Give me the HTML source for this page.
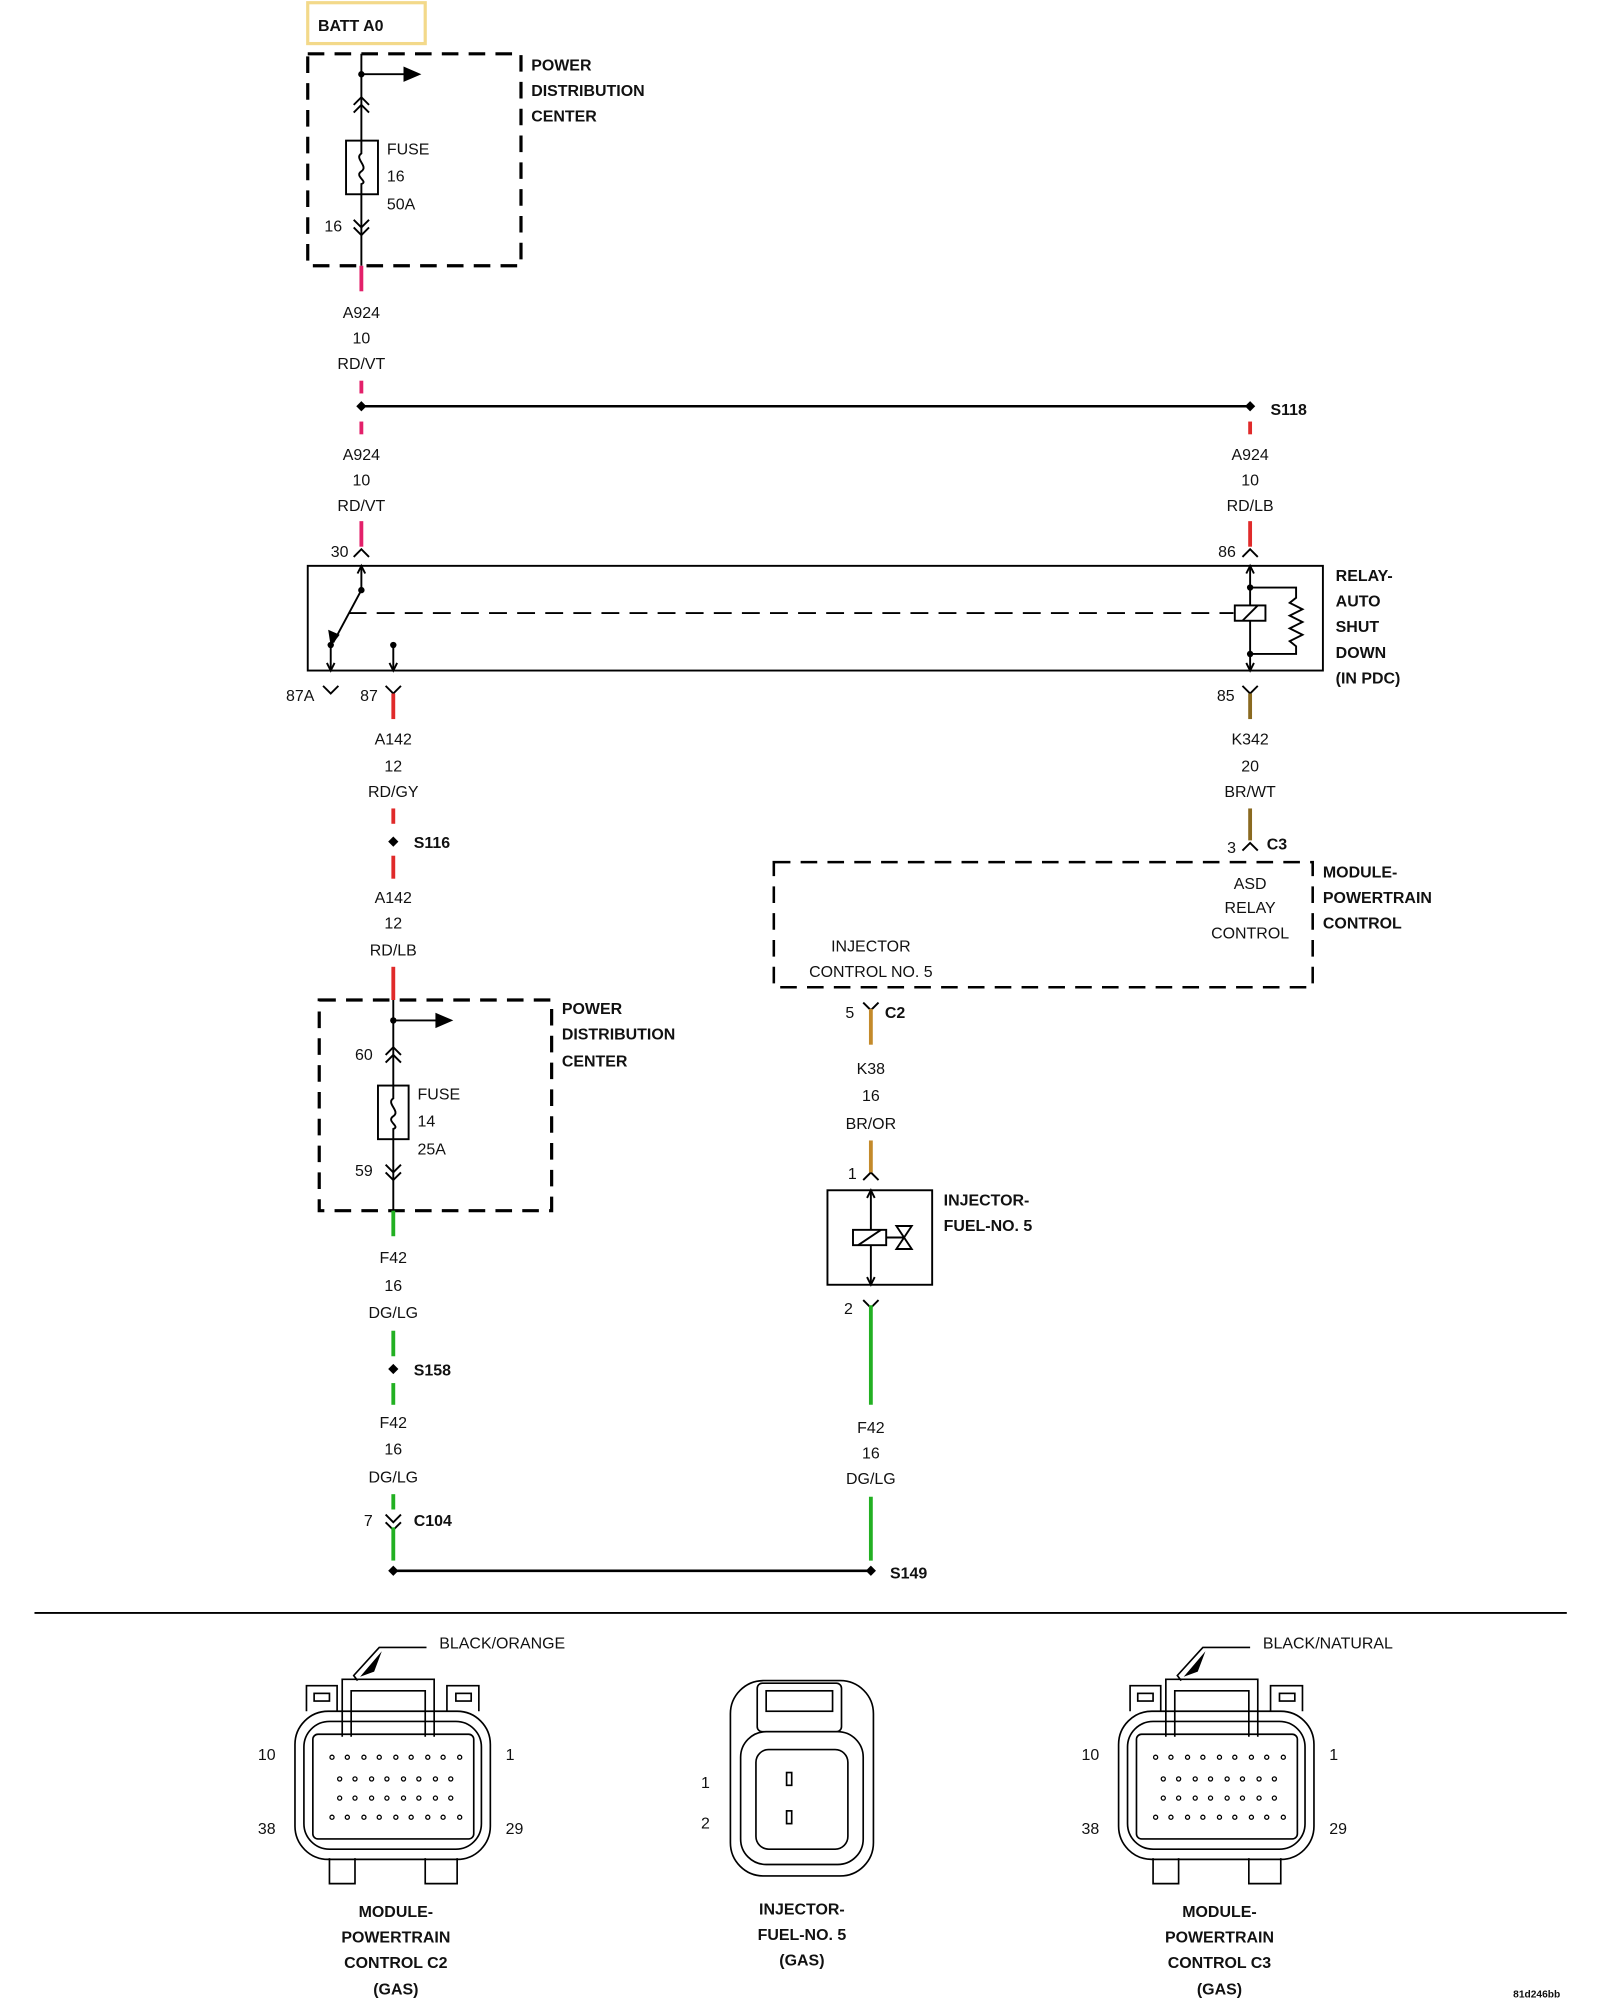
<!DOCTYPE html>
<html><head><meta charset="utf-8"><style>
html,body{margin:0;padding:0;background:#fff}
svg{display:block}
text{font-family:"Liberation Sans",Arial,sans-serif;font-size:12.5px;fill:#111}
.b{font-weight:bold}
.m{text-anchor:middle}
</style></head><body>
<svg width="1600" height="2000" viewBox="0 0 1253 1566" xmlns="http://www.w3.org/2000/svg">
<defs>
<marker id="ah" viewBox="0 0 10 10" refX="9" refY="5" markerWidth="6" markerHeight="6" orient="auto"><path d="M0,0 L10,5 L0,10z" fill="#000"/></marker>
</defs>
<g fill="none" stroke="#000" stroke-width="1.5">
<!-- BATT box -->
<rect x="241" y="2" width="92" height="32" stroke="#f3d98a" stroke-width="2.5"/>
<!-- PDC1 -->
<rect x="241" y="42" width="167" height="166" stroke-width="2.5" stroke-dasharray="13,8"/>
<line x1="283" y1="42" x2="283" y2="208"/>
<line x1="283" y1="58" x2="318" y2="58"/>
<rect x="271" y="110" width="25" height="42" fill="#fff"/>
<path d="M283,110 v10 c-6,4 6,10 0,14 c-6,4 6,8 0,10 v8"/>
<path d="M277,82 l6,-6 l6,6 M277,88 l6,-6 l6,6"/>
<path d="M277,172 l6,6 l6,-6 M277,178 l6,6 l6,-6"/>
<!-- relay -->
<rect x="241" y="443" width="795" height="82"/>
<line x1="283" y1="443" x2="283" y2="462"/>
<path d="M280,449 l3,-6 l3,6"/>
<line x1="283" y1="462" x2="261" y2="503"/>
<line x1="259" y1="505" x2="259" y2="525"/><path d="M256,519 l3,6 l3,-6"/>
<line x1="308" y1="505" x2="308" y2="525"/><path d="M305,519 l3,6 l3,-6"/>
<line x1="273" y1="480" x2="966" y2="480" stroke-dasharray="14,8"/>
<line x1="979" y1="443" x2="979" y2="525"/>
<path d="M976,449 l3,-6 l3,6 M976,519 l3,6 l3,-6"/>
<rect x="967" y="474" width="24" height="12" fill="#fff"/><line x1="973" y1="486" x2="985" y2="474"/>
<path d="M979,460 h36 v8 l-5,4 l10,5 l-10,5 l10,5 l-10,5 l10,5 l-10,5 l5,4 v6 h-36"/>
<!-- relay chevrons -->
<path d="M277,436 l6,-6 l6,6 M973,436 l6,-6 l6,6"/>
<path d="M253,537 l6,6 l6,-6 M302,537 l6,6 l6,-6 M973,537 l6,6 l6,-6"/>
<!-- splice line -->
<line x1="283" y1="318" x2="979" y2="318" stroke-width="2"/>
<!-- PCM box -->
<rect x="606" y="675" width="422" height="98" stroke-width="2" stroke-dasharray="13,8"/>
<path d="M973,666 l6,-6 l6,6"/>
<path d="M676,785 l6,6 l6,-6"/>
<path d="M676,924 l6,-6 l6,6"/>
<!-- injector -->
<rect x="648" y="932" width="82" height="74"/>
<line x1="682" y1="932" x2="682" y2="1006"/>
<path d="M679,938 l3,-6 l3,6 M679,1000 l3,6 l3,-6"/>
<rect x="668" y="963" width="26" height="12" fill="#fff"/><line x1="672" y1="975" x2="690" y2="963"/>
<line x1="694" y1="969" x2="708" y2="969"/>
<path d="M702,960 l12,18 h-12 l12,-18z"/>
<path d="M676,1018 l6,6 l6,-6"/>
<!-- PDC2 -->
<rect x="250" y="783" width="182" height="165" stroke-width="2.5" stroke-dasharray="13,8"/>
<line x1="308" y1="783" x2="308" y2="948"/>
<line x1="308" y1="799" x2="343" y2="799"/>
<rect x="296" y="850" width="24" height="42" fill="#fff"/>
<path d="M308,850 v10 c-6,4 6,10 0,14 c-6,4 6,8 0,10 v8"/>
<path d="M302,826 l6,-6 l6,6 M302,832 l6,-6 l6,6"/>
<path d="M302,912 l6,6 l6,-6 M302,918 l6,6 l6,-6"/>
<path d="M302,1186 l6,6 l6,-6 M302,1192 l6,6 l6,-6"/>
<line x1="308" y1="1230" x2="682" y2="1230" stroke-width="2"/>
<line x1="27" y1="1263" x2="1227" y2="1263" stroke-width="1.5"/>
</g>
<!-- arrowheads -->
<path d="M316,52 L330,58 L316,64z M341,793 L355,799 L341,805z"/>
<path d="M259,506 l-2,-13 l9,4z"/>
<!-- dots -->
<g fill="#000">
<circle cx="283" cy="58" r="2.5"/><circle cx="308" cy="799" r="2.5"/>
<circle cx="283" cy="462" r="2.5"/><circle cx="259" cy="505" r="2.5"/><circle cx="308" cy="505" r="2.5"/>
<circle cx="979" cy="460" r="2.5"/><circle cx="979" cy="512" r="2.5"/>
<path d="M283,314 l4,4 l-4,4 l-4,-4z M979,314 l4,4 l-4,4 l-4,-4z M308,655 l4,4 l-4,4 l-4,-4z M308,1068 l4,4 l-4,4 l-4,-4z M308,1226 l4,4 l-4,4 l-4,-4z M682,1226 l4,4 l-4,4 l-4,-4z"/>
</g>
<!-- colored wires -->
<g stroke-width="3" fill="none">
<g stroke="#e3206a"><line x1="283" y1="208" x2="283" y2="228"/><line x1="283" y1="298" x2="283" y2="308"/><line x1="283" y1="330" x2="283" y2="340"/><line x1="283" y1="408" x2="283" y2="428"/></g>
<g stroke="#e02a2a"><line x1="979" y1="330" x2="979" y2="340"/><line x1="979" y1="408" x2="979" y2="428"/>
<line x1="308" y1="543" x2="308" y2="563"/><line x1="308" y1="633" x2="308" y2="645"/><line x1="308" y1="670" x2="308" y2="688"/><line x1="308" y1="757" x2="308" y2="783"/></g>
<g stroke="#8a6a20"><line x1="979" y1="543" x2="979" y2="563"/><line x1="979" y1="633" x2="979" y2="658"/></g>
<g stroke="#c48a2a"><line x1="682" y1="790" x2="682" y2="818"/><line x1="682" y1="893" x2="682" y2="918"/></g>
<g stroke="#22b022"><line x1="682" y1="1022" x2="682" y2="1100"/><line x1="682" y1="1172" x2="682" y2="1222"/>
<line x1="308" y1="948" x2="308" y2="968"/><line x1="308" y1="1042" x2="308" y2="1062"/><line x1="308" y1="1083" x2="308" y2="1100"/><line x1="308" y1="1170" x2="308" y2="1182"/><line x1="308" y1="1196" x2="308" y2="1222"/></g>
</g>
<!-- text -->
<text x="249" y="24" class="b">BATT A0</text>
<text x="416" y="55" class="b">POWER</text><text x="416" y="75" class="b">DISTRIBUTION</text><text x="416" y="95" class="b">CENTER</text>
<text x="303" y="121">FUSE</text><text x="303" y="142">16</text><text x="303" y="164">50A</text><text x="254" y="181">16</text>
<g class="m">
<text x="283" y="249" class="m">A924</text><text x="283" y="269" class="m">10</text><text x="283" y="289" class="m">RD/VT</text>
<text x="283" y="360" class="m">A924</text><text x="283" y="380" class="m">10</text><text x="283" y="400" class="m">RD/VT</text>
<text x="979" y="360" class="m">A924</text><text x="979" y="380" class="m">10</text><text x="979" y="400" class="m">RD/LB</text>
<text x="308" y="583" class="m">A142</text><text x="308" y="604" class="m">12</text><text x="308" y="624" class="m">RD/GY</text>
<text x="308" y="707" class="m">A142</text><text x="308" y="727" class="m">12</text><text x="308" y="748" class="m">RD/LB</text>
<text x="979" y="583" class="m">K342</text><text x="979" y="604" class="m">20</text><text x="979" y="624" class="m">BR/WT</text>
<text x="979" y="696" class="m">ASD</text><text x="979" y="715" class="m">RELAY</text><text x="979" y="735" class="m">CONTROL</text>
<text x="682" y="745" class="m">INJECTOR</text><text x="682" y="765" class="m">CONTROL NO. 5</text>
<text x="682" y="841" class="m">K38</text><text x="682" y="862" class="m">16</text><text x="682" y="884" class="m">BR/OR</text>
<text x="308" y="989" class="m">F42</text><text x="308" y="1011" class="m">16</text><text x="308" y="1032" class="m">DG/LG</text>
<text x="308" y="1118" class="m">F42</text><text x="308" y="1139" class="m">16</text><text x="308" y="1161" class="m">DG/LG</text>
<text x="682" y="1122" class="m">F42</text><text x="682" y="1142" class="m">16</text><text x="682" y="1162" class="m">DG/LG</text>
</g>
<text x="995" y="325" class="b">S118</text>
<text x="259" y="436">30</text><text x="954" y="436">86</text>
<text x="224" y="549">87A</text><text x="282" y="549">87</text><text x="953" y="549">85</text>
<text x="1046" y="455" class="b">RELAY-</text><text x="1046" y="475" class="b">AUTO</text><text x="1046" y="495" class="b">SHUT</text><text x="1046" y="515" class="b">DOWN</text><text x="1046" y="535" class="b">(IN PDC)</text>
<text x="324" y="664" class="b">S116</text>
<text x="961" y="668">3</text><text x="992" y="665" class="b">C3</text>
<text x="1036" y="687" class="b">MODULE-</text><text x="1036" y="707" class="b">POWERTRAIN</text><text x="1036" y="727" class="b">CONTROL</text>
<text x="662" y="797">5</text><text x="693" y="797" class="b">C2</text>
<text x="440" y="794" class="b">POWER</text><text x="440" y="814" class="b">DISTRIBUTION</text><text x="440" y="835" class="b">CENTER</text>
<text x="278" y="830">60</text><text x="327" y="861">FUSE</text><text x="327" y="882">14</text><text x="327" y="904">25A</text><text x="278" y="921">59</text>
<text x="664" y="923">1</text><text x="739" y="944" class="b">INJECTOR-</text><text x="739" y="964" class="b">FUEL-NO. 5</text>
<text x="661" y="1029">2</text>
<text x="324" y="1077" class="b">S158</text>
<text x="285" y="1195">7</text><text x="324" y="1195" class="b">C104</text>
<text x="697" y="1236" class="b">S149</text>
<!-- bottom connectors -->
<g fill="none" stroke="#000" stroke-width="1.3">
<g id="c2">
<path d="M280,1316 l-3,-4 L297,1290 H334"/>
<path d="M240,1340 v-20 h24 v20 M350,1340 v-20 h25 v20"/>
<rect x="246" y="1326" width="12" height="6"/><rect x="357" y="1326" width="12" height="6"/>
<path d="M268,1360 v-45 h72 v45"/><path d="M275,1360 v-36 h58 v36"/>
<rect x="231" y="1340" width="153" height="116" rx="26"/>
<rect x="238" y="1348" width="139" height="100" rx="20"/>
<rect x="245" y="1358" width="126" height="82" rx="4"/>
<path d="M258,1455 v20 h20 v-20 M333,1455 v20 h25 v-20"/>
<g fill="#fff" stroke-width="1">
<circle cx="260" cy="1376" r="1.6"/><circle cx="272" cy="1376" r="1.6"/><circle cx="285" cy="1376" r="1.6"/><circle cx="297" cy="1376" r="1.6"/><circle cx="310" cy="1376" r="1.6"/><circle cx="322" cy="1376" r="1.6"/><circle cx="335" cy="1376" r="1.6"/><circle cx="347" cy="1376" r="1.6"/><circle cx="360" cy="1376" r="1.6"/>
<circle cx="266" cy="1393" r="1.6"/><circle cx="278" cy="1393" r="1.6"/><circle cx="291" cy="1393" r="1.6"/><circle cx="303" cy="1393" r="1.6"/><circle cx="316" cy="1393" r="1.6"/><circle cx="328" cy="1393" r="1.6"/><circle cx="341" cy="1393" r="1.6"/><circle cx="353" cy="1393" r="1.6"/>
<circle cx="266" cy="1408" r="1.6"/><circle cx="278" cy="1408" r="1.6"/><circle cx="291" cy="1408" r="1.6"/><circle cx="303" cy="1408" r="1.6"/><circle cx="316" cy="1408" r="1.6"/><circle cx="328" cy="1408" r="1.6"/><circle cx="341" cy="1408" r="1.6"/><circle cx="353" cy="1408" r="1.6"/>
<circle cx="260" cy="1423" r="1.6"/><circle cx="272" cy="1423" r="1.6"/><circle cx="285" cy="1423" r="1.6"/><circle cx="297" cy="1423" r="1.6"/><circle cx="310" cy="1423" r="1.6"/><circle cx="322" cy="1423" r="1.6"/><circle cx="335" cy="1423" r="1.6"/><circle cx="347" cy="1423" r="1.6"/><circle cx="360" cy="1423" r="1.6"/>
</g>
</g>
<use href="#c2" transform="translate(645,0)"/>
<!-- injector connector -->
<rect x="572" y="1316" width="112" height="153" rx="26"/>
<rect x="580" y="1356" width="96" height="104" rx="20"/>
<rect x="592" y="1370" width="72" height="78" rx="10"/>
<rect x="593" y="1318" width="66" height="38" rx="4"/><rect x="600" y="1324" width="52" height="16"/>
<rect x="616" y="1388" width="4" height="10"/><rect x="616" y="1418" width="4" height="10"/>
</g>
<path d="M282,1313 l17,-20 l-6,16z M927,1313 l17,-20 l-6,16z" fill="#000"/>
<text x="344" y="1291">BLACK/ORANGE</text><text x="989" y="1291">BLACK/NATURAL</text>
<text x="202" y="1378">10</text><text x="396" y="1378">1</text><text x="202" y="1436">38</text><text x="396" y="1436">29</text>
<text x="847" y="1378">10</text><text x="1041" y="1378">1</text><text x="847" y="1436">38</text><text x="1041" y="1436">29</text>
<text x="549" y="1400">1</text><text x="549" y="1432">2</text>
<g class="b">
<text x="310" y="1501" class="b m">MODULE-</text><text x="310" y="1521" class="b m">POWERTRAIN</text><text x="310" y="1541" class="b m">CONTROL C2</text><text x="310" y="1562" class="b m">(GAS)</text>
<text x="628" y="1499" class="b m">INJECTOR-</text><text x="628" y="1519" class="b m">FUEL-NO. 5</text><text x="628" y="1539" class="b m">(GAS)</text>
<text x="955" y="1501" class="b m">MODULE-</text><text x="955" y="1521" class="b m">POWERTRAIN</text><text x="955" y="1541" class="b m">CONTROL C3</text><text x="955" y="1562" class="b m">(GAS)</text>
</g>
<text x="1185" y="1564" class="b" style="font-size:8px">81d246bb</text>
</svg>
</body></html>
